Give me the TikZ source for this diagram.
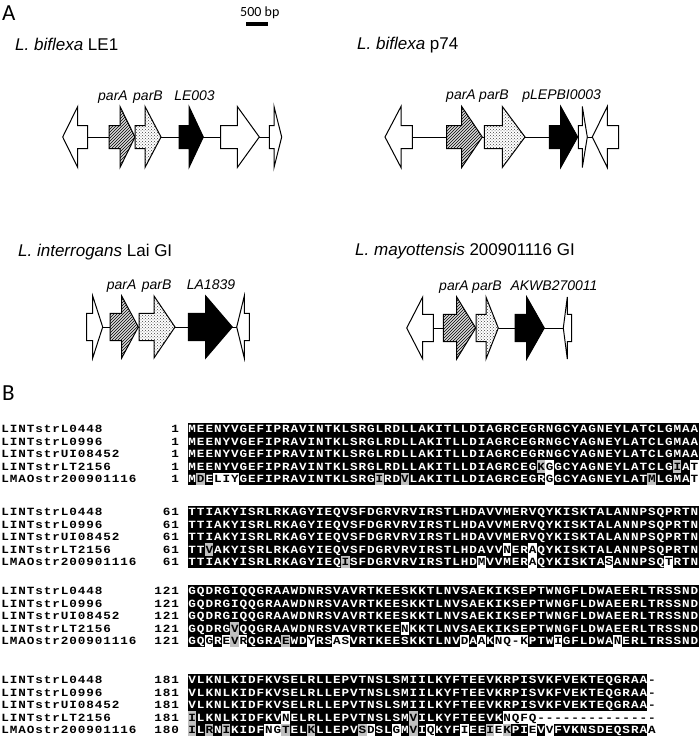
\documentclass[tikz,border=0pt]{standalone}
\usepackage{fontspec}
\setmainfont{Liberation Sans}
\newfontfamily\panelfont{Carlito}
\newfontfamily\alnfont{Liberation Mono}
\usepackage{graphicx}
\usetikzlibrary{patterns}

\definecolor{alngray}{gray}{0.75}

\tikzset{
  genebox/.style={draw=black, line width=1pt, line join=miter},
  parAfill/.style={preaction={fill=black!15}, pattern=north east lines},
  parBfill/.style={preaction={fill=white}, pattern=crosshatch dots, pattern color=black!75},
  track/.style={line width=1pt},
  title/.style={anchor=base west, inner sep=0pt, font=\fontsize{17}{20}\selectfont},
  genelabel/.style={anchor=base, inner sep=0pt, font=\fontsize{14}{16}\selectfont\itshape},
  panel/.style={anchor=base west, inner sep=0pt, font=\panelfont\fontsize{23}{26}\selectfont},
  seqchar/.style={anchor=base, inner sep=0pt, font=\alnfont\bfseries\fontsize{11}{12}\selectfont},
}

% gene arrow: [style]{y}{tail x}{head base x}{tip x}
\def\bh{11.5}
\def\hh{30.5}
\newcommand\gene[5][fill=white]{%
  \draw[genebox,#1] (#3,#2-\bh) -- (#4,#2-\bh) -- (#4,#2-\hh) -- (#5,#2)
    -- (#4,#2+\hh) -- (#4,#2+\bh) -- (#3,#2+\bh) -- cycle;}

% alignment grid
\def\alnxo{0.8}   % left edge of column 0
\def\alnw{8.51}   % column pitch
\def\alnh{12.5}   % row height
\newcount\alncol
\newcount\alnrow
\def\alnsetk{\def\alnbg{black}\def\alnfg{white}}
\def\alnsetg{\def\alnbg{alngray}\def\alnfg{black}}
\def\alnsetw{\def\alnbg{white}\def\alnfg{black}}
\let\alnend\relax
% #1 default shade (k, g, w), #2 first column, #3 row centre, #4 residues
% in #4: + gray, = white, * black for the next residue only
\newcommand\alnput[4]{%
  \global\advance\alnrow by 1
  \expandafter\let\expandafter\alnreset\csname alnset#1\endcsname
  \alnreset
  \alncol=#2\relax
  \def\alny{#3}%
  \expandafter\alnnext#4\alnend}
\def\alnnext#1{%
  \let\alnaction\alnnext
  \ifx#1\alnend\let\alnaction\relax
  \else\ifx#1+\alnsetg
  \else\ifx#1=\alnsetw
  \else\ifx#1*\alnsetk
  \else\def\alnchar{#1}\let\alnaction\alnplace
  \fi\fi\fi\fi
  \alnaction}
\def\alnplace{%
  \pgfmathsetmacro\alnx{\alnxo+(\the\alncol+0.5)*\alnw}%
  \pgfmathsetmacro\alnyy{\alny}%
  \fill[\alnbg] (\alnx-\alnw/2-0.2,\alnyy-\alnh/2-0.2) rectangle (\alnx+\alnw/2+0.2,\alnyy+\alnh/2+0.2);
  \node[seqchar, text=\alnfg] (r\the\alnrow-\the\alncol) at (\alnx,\alnyy+3.7) {\scalebox{1.15}[1]{\alnchar}};
  \alnreset
  \advance\alncol by 1
  \alnnext}

\begin{document}
\begin{tikzpicture}[x=1pt, y=-1pt]
\useasboundingbox (0,0) rectangle (700,737);

% ---- panel A ----
\node[panel] (A) at (2,20) {A};
\node[anchor=base west, inner sep=0pt, font=\panelfont\fontsize{14}{16}\selectfont] (scale) at (240,16) {500 bp};
\fill (246,22) rectangle (268,26);

% L. biflexa LE1
\node[title] (le1) at (15,50) {\textit{L. biflexa} LE1};
\draw[track] (87.7,137) -- (269.3,137);
\gene{137}{87.7}{77.7}{62.7}
\gene[parAfill]{137}{109}{120}{135}
\gene[parBfill]{137}{135}{145}{161}
\gene[fill=black]{137}{179}{189}{203.3}
\gene{137}{220.7}{237.3}{259.3}
\gene{137}{269.3}{274}{281.7}
\node[genelabel] (le1-parA) at (113,100) {parA};
\node[genelabel] (le1-parB) at (148,100) {parB};
\node[genelabel] (le1-LE003) at (194.5,100) {LE003};

% L. biflexa p74
\node[title] (p74) at (357,49) {\textit{L. biflexa} p74};
\draw[track] (412.3,137) -- (592.3,137);
\gene{137}{412.3}{401}{385}
\gene[parAfill]{137}{446.7}{461.7}{482.3}
\gene[parBfill]{137}{484.3}{502.3}{525}
\gene[fill=black]{137}{549.3}{560.7}{577.7}
\gene{137}{578.3}{582.3}{587.3}
\gene{137}{618.7}{607.3}{592.3}
\node[genelabel] (p74-parA) at (461,99) {parA};
\node[genelabel] (p74-parB) at (494,99) {parB};
\node[genelabel] (p74-pLEPBI0003) at (561.7,99) {pLEPBI0003};

% L. interrogans Lai GI
\def\bh{13.7}
\def\hh{31}
\node[title] (lai) at (18,256) {\textit{L. interrogans} Lai GI};
\draw[track] (86.7,327) -- (249.3,327);
\gene{327}{86.7}{92.7}{102.7}
\gene[parAfill]{327}{110}{121.7}{138.3}
\gene[parBfill]{327}{139}{154}{175}
\gene[fill=black]{327}{188.3}{205.7}{232.3}
\gene{327}{249.3}{244.3}{236.7}
\node[genelabel] (lai-parA) at (121.7,289) {parA};
\node[genelabel] (lai-parB) at (156.7,289) {parB};
\node[genelabel] (lai-LA1839) at (211,289) {LA1839};

% L. mayottensis 200901116 GI
\node[title] (may) at (355,255) {\textit{L. mayottensis} 200901116 GI};
\draw[track] (433.3,328) -- (571.7,328);
\gene{328}{433.3}{422.7}{406.7}
\gene[parAfill]{328}{443.3}{456.7}{475.7}
\gene[parBfill]{328}{476}{486}{498.3}
\gene[fill=black]{328}{515}{526.7}{544.3}
\gene{328}{571.7}{567.3}{563.3}
\node[genelabel] (may-parA) at (454,290) {parA};
\node[genelabel] (may-parB) at (487,290) {parB};
\node[genelabel] (may-AKWB270011) at (554,290) {AKWB270011};

% ---- panel B ----
\node[panel] (B) at (2,400) {B};

% sequence names and numbers
\foreach \yo/\col/\num in {429/20/1, 512/19/61, 591/18/121, 680/18/181} {
  \foreach \n/\lab in {0/LINTstrL0448, 1/LINTstrL0996, 2/LINTstrUI08452, 3/LINTstrLT2156, 4/LMAOstr200901116}
    {\alnput{w}{0}{\yo+\n*12.5}{\lab}}
  \foreach \n in {0,...,3}
    {\alnput{w}{\col}{\yo+\n*12.5}{\num}}
}
\alnput{w}{20}{429+4*12.5}{1}
\alnput{w}{19}{512+4*12.5}{61}
\alnput{w}{18}{591+4*12.5}{121}
\alnput{w}{18}{680+4*12.5}{180}

% block 1
\foreach \n in {0,1,2}
  {\alnput{k}{22}{429+\n*12.5}{MEENYVGEFIPRAVINTKLSRGLRDLLAKITLLDIAGRCEGRNGCYAGNEYLATCLGMAA}}
\alnput{k}{22}{429+3*12.5}{MEENYVGEFIPRAVINTKLSRGLRDLLAKITLLDIAGRCEG+K=GGCYAGNEYLATCLG+IA=T}
\alnput{k}{22}{429+4*12.5}{M+DE=L=I=YGEFIPRAVINTKLSRG+IRD+VLAKITLLDIAGRCEGR=GGCYAGNEYLAT+MLGMA=T}

% block 2
\foreach \n in {0,1,2}
  {\alnput{k}{22}{512+\n*12.5}{TTIAKYISRLRKAGYIEQVSFDGRVRVIRSTLHDAVVMERVQYKISKTALANNPSQPRTN}}
\alnput{k}{22}{512+3*12.5}{TT+VAKYISRLRKAGYIEQVSFDGRVRVIRSTLHDAVV=NER=AQYKISKTALANNPSQPRTN}
\alnput{k}{22}{512+4*12.5}{TTIAKYISRLRKAGYIEQ+ISFDGRVRVIRSTLHD=MVVMER=AQYKISKTA=SANNPSQ=TRTN}

% block 3
\foreach \n in {0,1,2}
  {\alnput{k}{22}{591+\n*12.5}{GQDRGIQQGRAAWDNRSVAVRTKEESKKTLNVSAEKIKSEPTWNGFLDWAEERLTRSSND}}
\alnput{k}{22}{591+3*12.5}{GQDRG+VQQGRAAWDNRSVAVRTKEE=NKKTLNVSAEKIKSEPTWNGFLDWAEERLTRSSND}
\alnput{k}{22}{591+4*12.5}{GQ=GR=E+V=RQGRA+EWD=YRS=A=SVRTKEESKKTLNV=DA=AK=N=Q=-=KPTW=IGFLDWA=NERLTRSSND}

% block 4
\foreach \n in {0,1,2}
  {\alnput{k}{22}{680+\n*12.5}{VLKNLKIDFKVSELRLLEPVTNSLSMIILKYFTEEVKRPISVKFVEKTEQGRAA=-}}
\alnput{k}{22}{680+3*12.5}{+ILKNLKIDFKV=NELRLLEPVTNSLSM+VILKYFTEEVK=N=Q=F=Q=-=-=-=-=-=-=-=-=-=-=-=-=-=-}
\alnput{k}{22}{680+4*12.5}{+IL+RN+IKIDF=N=G+TEL+KLLEPV+S=DSL=GM+VI=QKYF=IEE+I=E+KPI=EV=VFVKNSDEQSRA=A}
\end{tikzpicture}
\end{document}
